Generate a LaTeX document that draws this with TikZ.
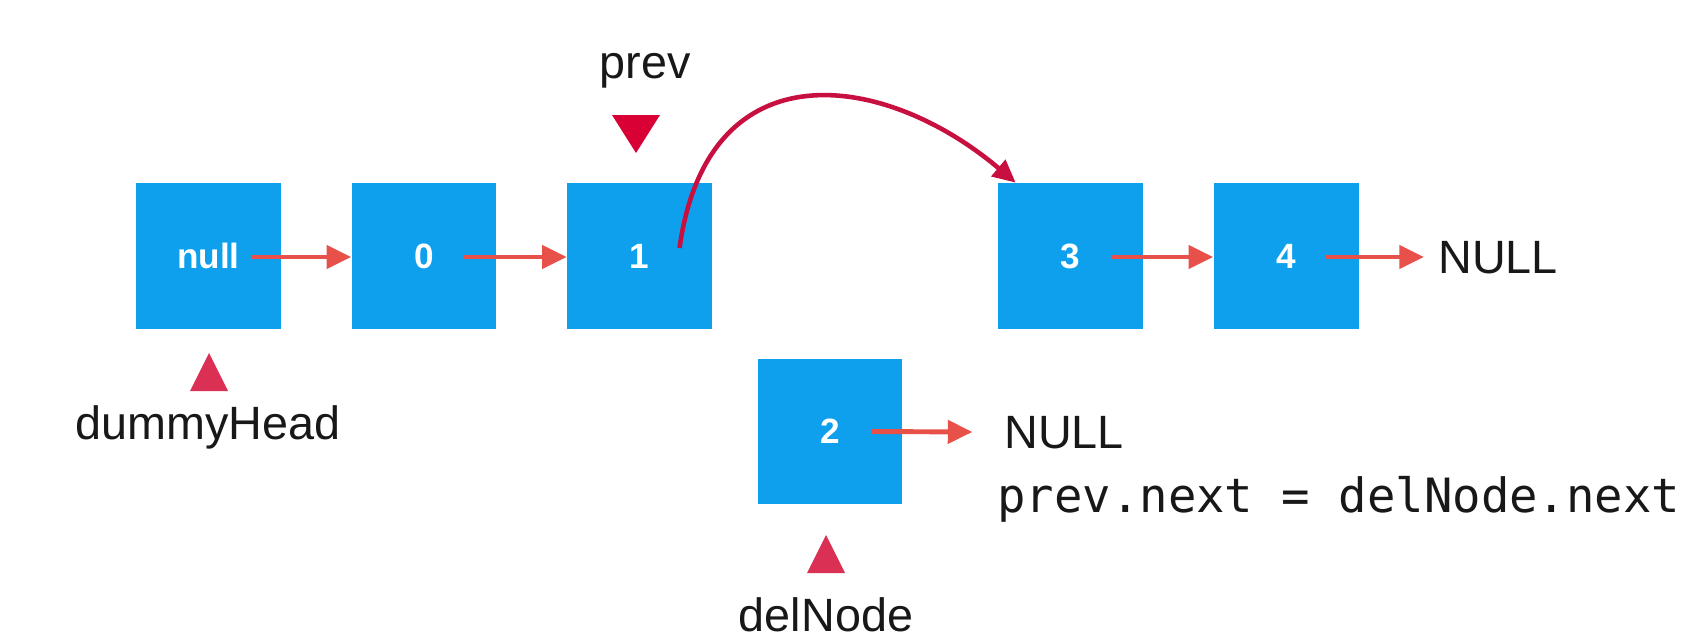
\documentclass[tikz,border=0pt]{standalone}
\usepackage{fontspec}
\setmainfont{Liberation Sans}
\setmonofont{DejaVu Sans Mono}
\usetikzlibrary{arrows.meta,calc}
\definecolor{boxblue}{RGB}{14,160,236}
\definecolor{linkred}{RGB}{232,80,74}
\definecolor{jumpred}{RGB}{200,16,64}
\definecolor{markred}{RGB}{216,0,52}
\definecolor{tagred}{RGB}{218,48,84}
\definecolor{inkgray}{RGB}{24,24,24}

\begin{document}
\begin{tikzpicture}[x=0.02cm,y=-0.02cm,
  listnode/.style={rectangle,fill=boxblue,minimum width=2.9cm,minimum height=2.92cm,inner sep=0pt,text=white,font=\fontsize{20}{24}\selectfont\bfseries},
  link/.style={-{Triangle[length=14pt,width=13pt]},line width=2.8pt,draw=linkred},
  jump/.style={-{Triangle[length=13pt,width=12pt]},line width=2.6pt,draw=jumpred},
  tag/.style={inner sep=0pt,text=inkgray,font=\fontsize{26.6}{32}\selectfont},
  code/.style={inner sep=0pt,text=inkgray,font=\ttfamily\fontsize{26.9}{32}\selectfont}]
\useasboundingbox (0,0) rectangle (1706,639);
\begin{scope}
\node[listnode] (nnull) at (208.5,256) {null};
\node[listnode] (n0) at (424,256) {0};
\node[listnode] (n1) at (639.5,256) {1};
\node[listnode] (n3) at (1070.5,256) {3};
\node[listnode] (n4) at (1286,256) {4};
\node[listnode] (n2) at (830,431.5) {2};
\node[tag,anchor=base] (prevtag) at (645,78) {prev};
\node[tag,anchor=base] (headtag) at (208,439) {dummyHead};
\node[tag,anchor=base] (deltag) at (826,631) {delNode};
\node[tag,anchor=base west] (nullA) at (1438,273) {NULL};
\node[tag,anchor=base west] (nullB) at (1004,448) {NULL};
\node[code,anchor=base west] (stmt) at (997,512) {prev.next = delNode.next};
% pointers
\fill[markred] (612,115) -- (660,115) -- (636,153) -- cycle;
\fill[tagred] (190,391) -- (228,391) -- (209,353) -- cycle;
\fill[tagred] (807,573) -- (845,573) -- (826,535) -- cycle;
% next links
\draw[link] ($(nnull)+(42,1)$) -- ($(n0.west)+(0,1)$);
\draw[link] ($(n0)+(40,1)$) -- ($(n1.west)+(0,1)$);
\draw[link] ($(n3)+(40,1)$) -- ($(n4.west)+(0,1)$);
\draw[link,shorten >=8pt] ($(n4)+(40,1)$) -- (nullA.west |- 0,257);
\draw[link,shorten >=18pt] ($(n2)+(42,0)$) -- (nullB.west);
\draw[jump] ($(n1)+(40,-8)$) .. controls (708,45) and (885,72) .. ($(n3.north west)+(18,0)$);
\end{scope}
\end{tikzpicture}
\end{document}
